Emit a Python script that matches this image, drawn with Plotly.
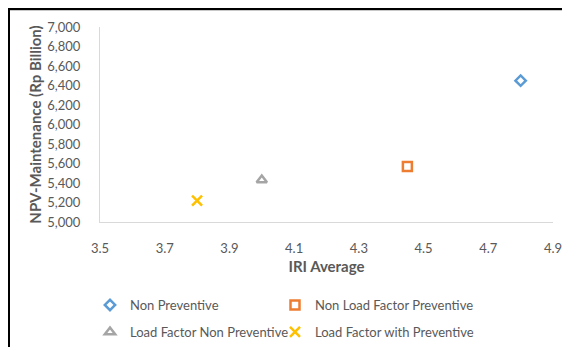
import plotly.graph_objects as go

series_names = ["Non Preventive", "Non Load Factor Preventive",
                "Load Factor Non Preventive", "Load Factor with Preventive"]
iri_avg = [4.8, 4.45, 4.0, 3.8]
npv_maint = [6450, 5570, 5430, 5220]
colors = ["#5B9BD5", "#ED7D31", "#A5A5A5", "#FFC000"]
symbols = ["diamond-open", "square-open", "triangle-up-open", "x-thin-open"]
sizes = [8, 9, 9, 10]
legend_ids = ["legend", "legend2", "legend3", "legend4"]

x_ticks = [3.5, 3.7, 3.9, 4.1, 4.3, 4.5, 4.7, 4.9]
y_ticks = [5000, 5200, 5400, 5600, 5800, 6000, 6200, 6400, 6600, 6800, 7000]

FONT = "Lato"
GRAY = "#595959"

fig = go.Figure()
for n, xv, yv, c, s, sz, lg in zip(series_names, iri_avg, npv_maint, colors, symbols, sizes, legend_ids):
    fig.add_trace(go.Scatter(
        x=[xv], y=[yv], mode="markers", name=n, legend=lg,
        marker=dict(symbol=s, size=sz, color=c, line=dict(color=c, width=2.5)),
    ))

# page body has an 8px margin, so the figure is sized to fit the window
W, H = 562, 339
L, R, T, B = 92, 17, 19, 125
pw, ph = W - L - R, H - T - B

def px(p):
    return (p - L) / pw

def py(r):
    return (H - B - r) / ph

def leg(xp, yp):
    return dict(
        orientation="h", xanchor="left", yanchor="middle",
        x=px(xp), y=py(yp),
        font=dict(family=FONT, size=13, color=GRAY),
        bgcolor="rgba(0,0,0,0)", itemwidth=30,
    )

fig.update_layout(
    width=W, height=H,
    margin=dict(l=L, r=R, t=T, b=B, autoexpand=False),
    paper_bgcolor="white", plot_bgcolor="white",
    font=dict(family=FONT, size=13, color=GRAY),
    showlegend=True,
    legend=leg(82, 297),
    legend2=leg(267, 297),
    legend3=leg(82, 324),
    legend4=leg(267, 324),
    xaxis=dict(
        range=[3.5, 4.9], tickvals=x_ticks, ticktext=[f"{v:.1f}" for v in x_ticks],
        showgrid=False, zeroline=False, showline=True, linecolor="#D9D9D9", linewidth=1,
        ticks="", ticklabelstandoff=14, tickfont=dict(family=FONT, size=13, color=GRAY),
        title=dict(text="<b>IRI Average</b>", font=dict(family=FONT, size=15, color=GRAY), standoff=6),
    ),
    yaxis=dict(
        range=[5000, 7000], tickvals=y_ticks, ticktext=[f"{v:,}" for v in y_ticks],
        showgrid=False, zeroline=False, showline=True, linecolor="#D9D9D9", linewidth=1,
        ticks="", ticklabelstandoff=16, tickfont=dict(family=FONT, size=13, color=GRAY),
        title=dict(text="<b>NPV-Maintenance (Rp Billion)</b>", font=dict(family=FONT, size=15, color=GRAY), standoff=2),
    ),
    shapes=[
        dict(type="line", xref="paper", yref="paper", x0=px(1), x1=px(1), y0=py(0), y1=py(H), line=dict(color="black", width=2)),
        dict(type="line", xref="paper", yref="paper", x0=px(0), x1=px(W), y0=py(1), y1=py(1), line=dict(color="black", width=2)),
        dict(type="line", xref="paper", yref="paper", x0=px(2), x1=px(W), y0=py(2.5), y1=py(2.5), line=dict(color="#C8C8C8", width=1)),
    ],
)

fig.write_html("out.html")
